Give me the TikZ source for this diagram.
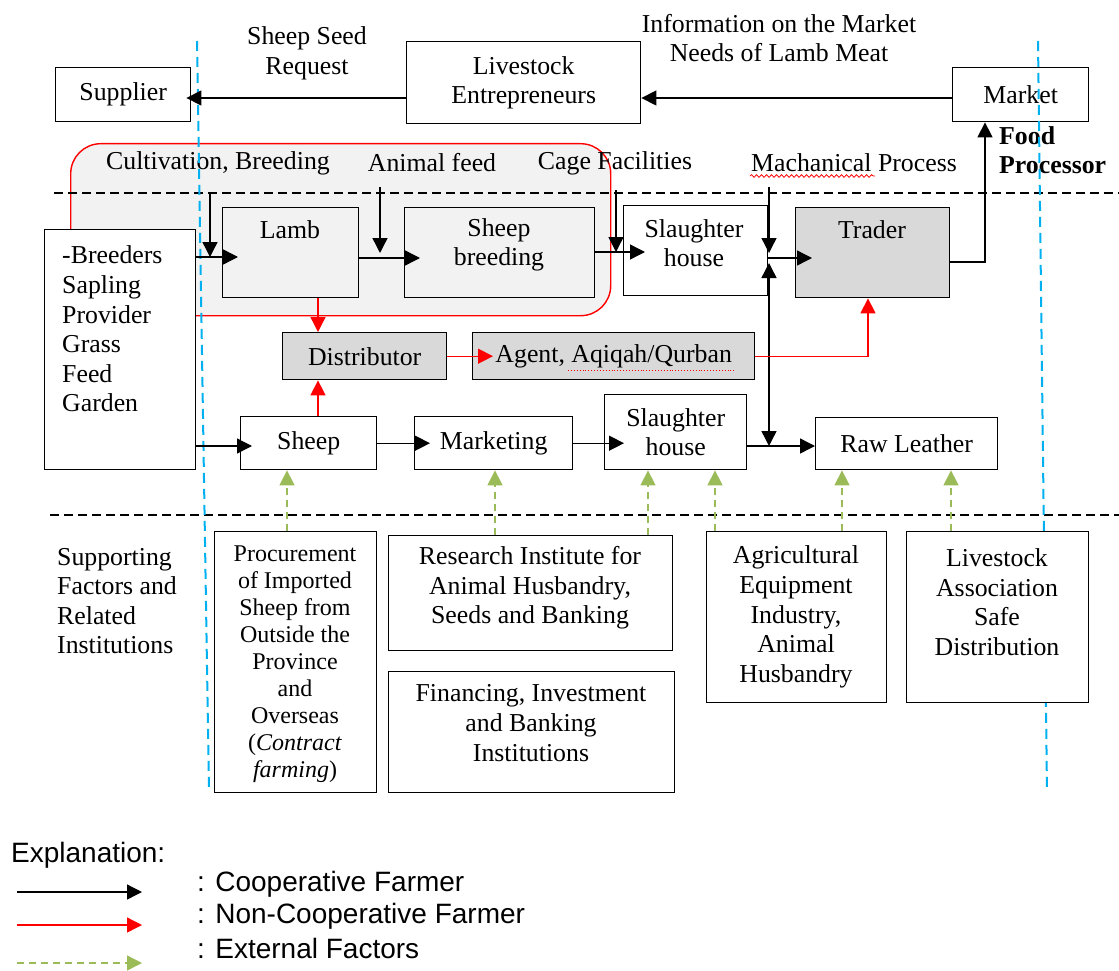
\documentclass[tikz,border=0pt]{standalone}
\usepackage{fontspec}
\setmainfont{Liberation Serif}
\newfontfamily\arialf{Liberation Sans}
\usetikzlibrary{arrows.meta,decorations.pathmorphing}
\definecolor{redc}{RGB}{255,0,0}
\definecolor{grnc}{RGB}{155,187,89}
\definecolor{bluc}{RGB}{0,176,240}
\definecolor{lgray}{RGB}{242,242,242}
\definecolor{dgray}{RGB}{217,217,217}
\newcommand\msz{\fontsize{25.8}{29.6}\selectfont}
\newcommand\ssz{\fontsize{24}{27}\selectfont}
\newcommand\lsz{\arialf\fontsize{28}{32}\selectfont}
\begin{document}
\begin{tikzpicture}[x=1pt,y=-1pt,font=\msz,
  >={Triangle[length=15pt,width=15pt]},
  bx/.style={draw, line width=1.4pt, inner sep=0pt, anchor=north west, align=center},
  lbl/.style={inner sep=0pt, align=center},
  ar/.style={line width=1.4pt, ->},
  blk/.style={ar, black},
  rd/.style={ar, redc},
  gr/.style={ar, grnc, dash pattern=on 7pt off 5pt},
  dsh/.style={black, line width=1.2pt, dash pattern=on 9pt off 5pt},
  blu/.style={bluc, line width=2pt, dash pattern=on 10pt off 6pt},
  leg/.style={inner sep=0pt, anchor=west, font=\lsz}]
\useasboundingbox (0,0) rectangle (1119,971);

% cooperative region
\node[draw=redc, line width=1.4pt, fill=lgray, rounded corners=30pt, anchor=north west,
      minimum width=540, minimum height=172, inner sep=0pt] (coop) at (70,143) {};

% horizontal dashed lines
\coordinate (dl1) at (54,193); \coordinate (dr1) at (1119,193);
\coordinate (dl2) at (50,515); \coordinate (dr2) at (1119,515);
\draw[dsh] (dl1) -- (dr1);
\draw[dsh] (dl2) -- (dr2);

% top labels
\node[lbl] (seedreq) at (307,53) {Sheep Seed\\Request};
\node[lbl] (info) at (779,38) {Information on the Market\\Needs of Lamb Meat};
\node[lbl] (cult) at (218,163) {Cultivation, Breeding};
\node[lbl] (feed) at (432,163) {Animal feed};
\node[lbl] (cage) at (615,163) {Cage Facilities};
\node[lbl] (mech) at (854,163) {Machanical Process};
\node[lbl, align=left, anchor=west, font=\msz\bfseries] (food) at (999,150) {Food\\Processor};

% top boxes
\node[bx, minimum width=135, minimum height=54] (sup) at (55,67) {Supplier};
\node[bx, minimum width=234, minimum height=82] (live) at (406,41) {Livestock\\Entrepreneurs};
\node[bx, minimum width=136, minimum height=54] (mkt) at (952,67) {Market};

% middle boxes
\node[bx, fill=lgray, minimum width=136, minimum height=90] (lamb) at (222,207) {};
\node[lbl] (lambt) at (290,230) {Lamb};
\node[bx, fill=lgray, minimum width=190, minimum height=90] (sbr) at (404,207) {};
\node[lbl] (sbrt) at (499,245) {Sheep\\breeding};
\node[bx, fill=white, minimum width=151, minimum height=240] (brd) at (44,229) {};
\node[lbl, align=left, anchor=west] (brdt) at (62,329) {-Breeders\\Sapling\\Provider\\Grass\\Feed\\Garden};
\node[bx, fill=white, minimum width=144, minimum height=90] (sl1) at (623,205) {};
\node[lbl] (sl1t) at (694,243) {Slaughter\\house};
\node[bx, fill=dgray, minimum width=154, minimum height=90] (trd) at (795,207) {};
\node[lbl] (trdt) at (872,230) {Trader};
\node[bx, fill=dgray, minimum width=164, minimum height=47] (dist) at (282,332) {Distributor};
\node[bx, fill=dgray, minimum width=282, minimum height=47] (agt) at (472,332) {Agent, Aqiqah/Qurban};
\node[bx, minimum width=136, minimum height=53] (shp) at (240,416) {Sheep};
\node[bx, minimum width=158, minimum height=53] (mkg) at (414,416) {Marketing};
\node[bx, minimum width=142, minimum height=75] (sl2) at (604,394) {Slaughter\\house};
\node[bx, minimum width=182, minimum height=52] (raw) at (815,417) {Raw Leather};

% spell-check underlines
\coordinate (wv1) at (750,176); \coordinate (wv2) at (875,176);
\draw[redc, line width=0.8pt, decorate, decoration={snake, amplitude=1.3pt, segment length=5pt}] (wv1) -- (wv2);
\coordinate (wa1) at (568,370); \coordinate (wa2) at (735,370);
\draw[redc, line width=0.9pt, dotted] (wa1) -- (wa2);

% blue boundary lines
\coordinate (bl1) at (197,41); \coordinate (bl2) at (209,792);
\coordinate (br1) at (1038,41); \coordinate (br2) at (1047,792);
\draw[blu] (bl1) -- (bl2);
\draw[blu] (br1) -- (br2);

% supporting factors
\node[lbl, align=left, anchor=west] (supf) at (57,601) {Supporting\\Factors and\\Related\\Institutions};
\node[bx, fill=white, minimum width=162, minimum height=261] (proc) at (214,531) {};
\node[lbl, font=\ssz] (proct) at (295,664) {Procurement\\of Imported\\Sheep from\\Outside the\\Province\\and\\Overseas\\(\textit{Contract}\\\textit{farming})};
\node[bx, fill=white, minimum width=284, minimum height=115] (res) at (388,535) {};
\node[lbl] (rest) at (530,588) {Research Institute for\\Animal Husbandry,\\Seeds and Banking};
\node[bx, fill=white, minimum width=286, minimum height=121] (fin) at (388,671) {};
\node[lbl] (fint) at (531,723) {Financing, Investment\\and Banking\\Institutions};
\node[bx, fill=white, minimum width=180, minimum height=171] (agri) at (706,531) {};
\node[lbl] (agrit) at (796,617) {Agricultural\\Equipment\\Industry,\\Animal\\Husbandry};
\node[bx, fill=white, minimum width=182, minimum height=171] (la) at (906,531) {};
\node[lbl] (lat) at (997,602) {Livestock\\Association\\Safe\\Distribution};

% top connectors
\coordinate (y98) at (0,98);
\draw[blk, shorten >=-5pt] (live.west |- y98) -- (sup.east |- y98);
\draw[blk] (mkt.west |- y98) -- (live.east |- y98);

% cooperative flow
\coordinate (cvt) at (210,193); \coordinate (cvb) at (210,257);
\draw[blk] (cvt) -- (cvb);
\draw[blk, shorten >=-16pt] (brd.east |- cvb) -- (lamb.west |- cvb);
\coordinate (aft) at (380,187); \coordinate (afb) at (380,253);
\draw[blk] (aft) -- (afb);
\coordinate (y258) at (0,258);
\draw[blk, shorten >=-16pt] (lamb.east |- y258) -- (sbr.west |- y258);
\coordinate (cft) at (616,190); \coordinate (cfb) at (616,252);
\draw[blk] (cft) -- (cfb);
\draw[blk, shorten >=-22pt] (sbr.east |- cfb) -- (sl1.west |- cfb);
\coordinate (mpt) at (769,187); \coordinate (mpb) at (769,253);
\draw[blk] (mpt) -- (mpb);
\draw[blk, shorten >=-17pt] (sl1.east |- y258) -- (trd.west |- y258);
\coordinate (mpu) at (769,263); \coordinate (y446) at (0,446);
\draw[black, line width=1.4pt, <->] (mpu) -- (mpu |- y446);
\coordinate (tmk) at (985,262);
\draw[blk] (trd.east |- tmk) -- (tmk) -- (tmk |- mkt.south);

% non-cooperative flow
\coordinate (rx) at (318,0);
\draw[rd] (lamb.south -| rx) -- (dist.north -| rx);
\draw[rd] (shp.north -| rx) -- (dist.south -| rx);
\draw[rd, shorten >=-21pt] (dist.east) -- (agt.west);
\coordinate (rt) at (868,0);
\draw[rd] (agt.east) -| (trd.south -| rt);

% lower flow
\draw[blk, shorten >=-12pt] (brd.east |- y446) -- (shp.west |- y446);
\draw[blk, shorten >=-16pt] (shp.east) -- (mkg.west);
\draw[blk, shorten >=-20pt] (mkg.east) -- (mkg.east -| sl2.west);
\draw[blk] (sl2.east |- y446) -- (raw.west |- y446);

% external factors
\coordinate (g1) at (287,0); \coordinate (g2) at (495,0); \coordinate (g3) at (648,0);
\coordinate (g4) at (715,0); \coordinate (g5) at (842,0); \coordinate (g6) at (951,0);
\draw[gr] (proc.north -| g1) -- (shp.south -| g1);
\draw[gr] (res.north -| g2) -- (mkg.south -| g2);
\draw[gr] (res.north -| g3) -- (sl2.south -| g3);
\draw[gr] (agri.north -| g4) -- (sl2.south -| g4);
\draw[gr] (agri.north -| g5) -- (raw.south -| g5);
\draw[gr] (la.north -| g6) -- (raw.south -| g6);

% legend
\node[leg] (expl) at (11,855) {Explanation:};
\coordinate (l1a) at (17,892); \coordinate (l1b) at (142,892);
\coordinate (l2a) at (17,925); \coordinate (l2b) at (142,925);
\coordinate (l3a) at (17,963); \coordinate (l3b) at (142,963);
\draw[blk] (l1a) -- (l1b);
\draw[rd] (l2a) -- (l2b);
\draw[gr] (l3a) -- (l3b);
\node[leg] (lt1) at (197,884) {: Cooperative Farmer};
\node[leg] (lt2) at (197,916) {: Non-Cooperative Farmer};
\node[leg] (lt3) at (197,948) {: External Factors};
\end{tikzpicture}
\end{document}
